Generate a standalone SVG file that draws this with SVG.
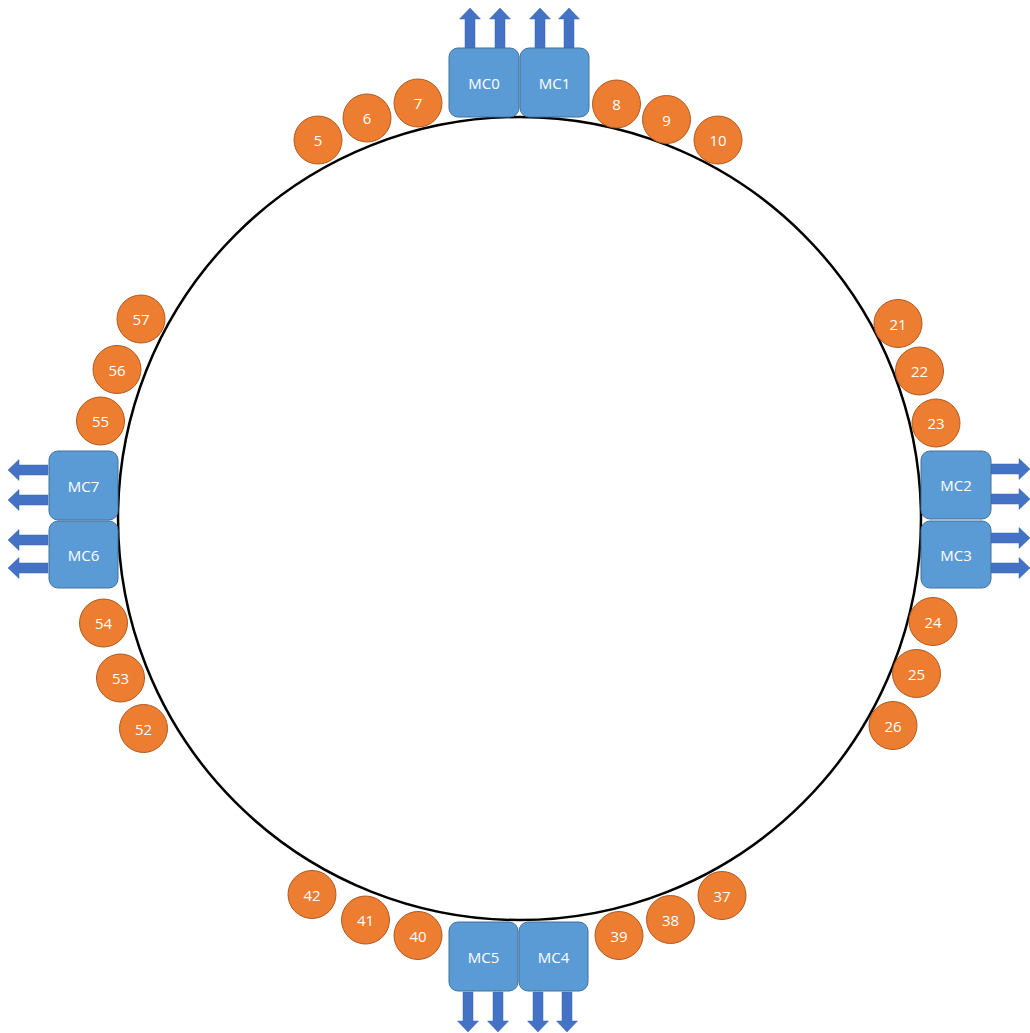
<svg xmlns="http://www.w3.org/2000/svg" width="1030" height="1033" viewBox="0 0 1030 1033">
<style>
.ring{fill:none;stroke:#000;stroke-width:2.5}
.mc rect{fill:#5B9BD5;stroke:#41719C;stroke-width:1}
.nd circle{fill:#ED7D31;stroke:#AE5A21;stroke-width:1}
text{font-family:"Open Sans","Liberation Sans",sans-serif;fill:#fff;text-anchor:middle;dominant-baseline:central}
.mc text{font-size:15px}
.nd text{font-size:15px}
.arr{fill:#4472C4;stroke:#3B64AD;stroke-width:0.5}
</style>
<defs>
<path id="a" class="arr" d="M0,0 L10.5,11 L5,11 L5,40 L-5,40 L-5,11 L-10.5,11 Z"/>
</defs>
<circle class="ring" cx="519.5" cy="518.5" r="401.5"/>
<g id="connectors">
<use href="#a" transform="translate(470,8)"/>
<use href="#a" transform="translate(500,8)"/>
<use href="#a" transform="translate(540,8)"/>
<use href="#a" transform="translate(569,8)"/>
<use href="#a" transform="translate(1030,469) rotate(90)"/>
<use href="#a" transform="translate(1030,499) rotate(90)"/>
<use href="#a" transform="translate(1030,538) rotate(90)"/>
<use href="#a" transform="translate(1030,568) rotate(90)"/>
<use href="#a" transform="translate(8,470) rotate(-90)"/>
<use href="#a" transform="translate(8,500) rotate(-90)"/>
<use href="#a" transform="translate(8,540) rotate(-90)"/>
<use href="#a" transform="translate(8,568) rotate(-90)"/>
<use href="#a" transform="translate(468,1032) rotate(180)"/>
<use href="#a" transform="translate(498,1032) rotate(180)"/>
<use href="#a" transform="translate(538,1032) rotate(180)"/>
<use href="#a" transform="translate(567,1032) rotate(180)"/>
</g>
<g id="MC0" class="mc"><rect x="449" y="48" width="70" height="69" rx="9"/><text x="484" y="82.5">MC0</text></g>
<g id="MC1" class="mc"><rect x="520" y="48" width="69" height="69" rx="9"/><text x="554.5" y="82.5">MC1</text></g>
<g id="MC2" class="mc"><rect x="921" y="451" width="70" height="68" rx="9"/><text x="956" y="485">MC2</text></g>
<g id="MC3" class="mc"><rect x="921" y="521" width="70" height="67" rx="9"/><text x="956" y="554.5">MC3</text></g>
<g id="MC4" class="mc"><rect x="519" y="922" width="69" height="69" rx="9"/><text x="553.5" y="956.5">MC4</text></g>
<g id="MC5" class="mc"><rect x="449" y="922" width="69" height="69" rx="9"/><text x="483.5" y="956.5">MC5</text></g>
<g id="MC6" class="mc"><rect x="49" y="521" width="69" height="67" rx="9"/><text x="83.5" y="554.5">MC6</text></g>
<g id="MC7" class="mc"><rect x="49" y="451" width="69" height="69" rx="9"/><text x="83.5" y="485.5">MC7</text></g>
<g id="n5" class="nd"><circle cx="318" cy="140" r="24"/><text x="318" y="140">5</text></g>
<g id="n6" class="nd"><circle cx="367" cy="118" r="24"/><text x="367" y="118">6</text></g>
<g id="n7" class="nd"><circle cx="418" cy="103" r="24"/><text x="418" y="103">7</text></g>
<g id="n8" class="nd"><circle cx="616.5" cy="104" r="24"/><text x="616.5" y="104">8</text></g>
<g id="n9" class="nd"><circle cx="666.5" cy="119.5" r="24"/><text x="666.5" y="119.5">9</text></g>
<g id="n10" class="nd"><circle cx="718" cy="140" r="24"/><text x="718" y="140">10</text></g>
<g id="n21" class="nd"><circle cx="898" cy="323.5" r="24"/><text x="898" y="323.5">21</text></g>
<g id="n22" class="nd"><circle cx="919.5" cy="371" r="24"/><text x="919.5" y="371">22</text></g>
<g id="n23" class="nd"><circle cx="936" cy="423" r="24"/><text x="936" y="423">23</text></g>
<g id="n24" class="nd"><circle cx="933" cy="621.5" r="24"/><text x="933" y="621.5">24</text></g>
<g id="n25" class="nd"><circle cx="916.5" cy="673.5" r="24"/><text x="916.5" y="673.5">25</text></g>
<g id="n26" class="nd"><circle cx="893" cy="725.5" r="24"/><text x="893" y="725.5">26</text></g>
<g id="n37" class="nd"><circle cx="722" cy="895.5" r="24"/><text x="722" y="895.5">37</text></g>
<g id="n38" class="nd"><circle cx="670.5" cy="919.5" r="24"/><text x="670.5" y="919.5">38</text></g>
<g id="n39" class="nd"><circle cx="619" cy="935.5" r="24"/><text x="619" y="935.5">39</text></g>
<g id="n40" class="nd"><circle cx="418" cy="935.5" r="24"/><text x="418" y="935.5">40</text></g>
<g id="n41" class="nd"><circle cx="365.5" cy="920" r="24"/><text x="365.5" y="920">41</text></g>
<g id="n42" class="nd"><circle cx="312" cy="894.5" r="24"/><text x="312" y="894.5">42</text></g>
<g id="n52" class="nd"><circle cx="143.5" cy="728.5" r="24"/><text x="143.5" y="728.5">52</text></g>
<g id="n53" class="nd"><circle cx="120.5" cy="678" r="24"/><text x="120.5" y="678">53</text></g>
<g id="n54" class="nd"><circle cx="103.5" cy="623" r="24"/><text x="103.5" y="623">54</text></g>
<g id="n55" class="nd"><circle cx="100.5" cy="421" r="24"/><text x="100.5" y="421">55</text></g>
<g id="n56" class="nd"><circle cx="117" cy="369.5" r="24"/><text x="117" y="369.5">56</text></g>
<g id="n57" class="nd"><circle cx="141" cy="319" r="24"/><text x="141" y="319">57</text></g>
</svg>
